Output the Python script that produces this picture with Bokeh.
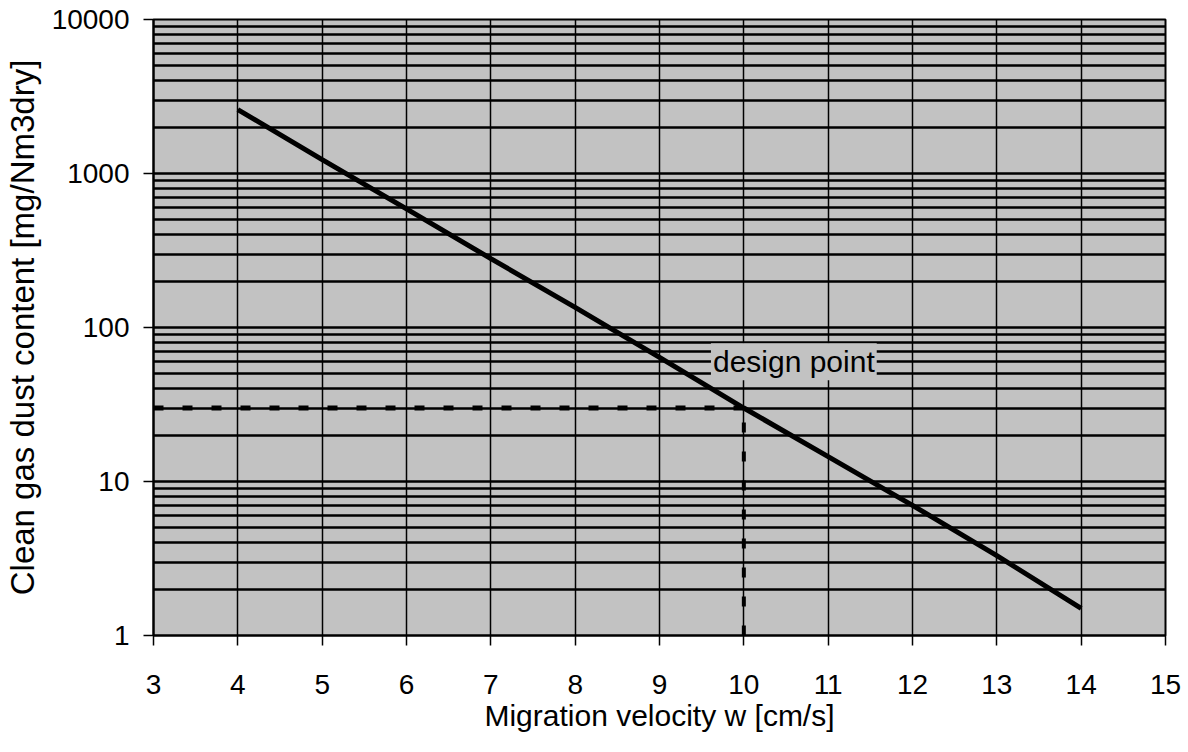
from bokeh.plotting import figure
from bokeh.models import FixedTicker, NumeralTickFormatter, Range1d
from bokeh.core.properties import value
from bokeh.embed import file_html
from bokeh.resources import INLINE

# data
velocity = [4, 5, 6, 7, 8, 9, 10, 11, 12, 13, 14]
dust = [2600, 1230, 590, 280, 135, 64, 30, 14.5, 7.0, 3.3, 1.5]
design_x = 10
design_y = 30
x_ticks = [3, 4, 5, 6, 7, 8, 9, 10, 11, 12, 13, 14, 15]
y_ticks = [1, 10, 100, 1000, 10000]
y_minor = [m * d for d in [1, 10, 100, 1000] for m in range(2, 10)]

X_MIN, X_MAX = 3, 15
Y_MIN, Y_MAX = 1, 10000

FONT = "Liberation Sans"
BG = "#c2c2c2"

p = figure(width=1188, height=752, y_axis_type="log",
           x_range=Range1d(X_MIN, X_MAX), y_range=Range1d(Y_MIN, Y_MAX),
           output_backend="svg", toolbar_location=None,
           min_border_left=152, min_border_right=23,
           min_border_top=19, min_border_bottom=117)

p.background_fill_color = BG
p.border_fill_color = "white"
p.outline_line_color = "black"
p.outline_line_width = 2

# axes
p.xaxis.ticker = FixedTicker(ticks=x_ticks)
p.yaxis.ticker = FixedTicker(ticks=y_ticks, minor_ticks=y_minor)
p.yaxis.formatter = NumeralTickFormatter(format="0")
for ax in (p.xaxis[0], p.yaxis[0]):
    ax.axis_line_color = "black"
    ax.axis_line_width = 2
    ax.major_tick_line_color = "black"
    ax.major_tick_line_width = 1.5
    ax.major_tick_in = 0
    ax.major_tick_out = 10
    ax.minor_tick_line_color = None
    ax.major_label_text_font = FONT
    ax.major_label_text_font_size = "28px"
    ax.major_label_text_color = "black"
    ax.axis_label_text_font = FONT
    ax.axis_label_text_font_style = "normal"
    ax.axis_label_text_color = "black"

p.xaxis.axis_label_text_font_size = "30px"
p.yaxis.axis_label_text_font_size = "33px"
p.xaxis.major_label_standoff = 29
p.xaxis.axis_label_standoff = 2
p.yaxis.major_label_standoff = 14
p.yaxis.axis_label_standoff = 8
p.xaxis.axis_label = "Migration velocity w [cm/s]"
p.yaxis.axis_label = "Clean gas dust content [mg/Nm3dry]"

# grid
p.xgrid.grid_line_color = "black"
p.xgrid.grid_line_width = 1.5
p.ygrid.grid_line_color = "black"
p.ygrid.grid_line_width = 2.5
p.ygrid.minor_grid_line_color = "black"
p.ygrid.minor_grid_line_width = 2.5

# reference dashed lines to the design point
p.line([X_MIN, design_x], [design_y, design_y], line_color="black",
       line_width=5, line_dash="10 19")
p.line([design_x, design_x], [Y_MIN, design_y], line_color="black",
       line_width=4, line_dash="10 19")

# main curve
p.line(velocity, dust, line_color="black", line_width=5)

# label (with a background box, hiding the grid behind it)
p.text(x=[design_x - 0.39], y=[design_y * 2.0], text=["design point"],
       text_font=value(FONT), text_font_size="30px", text_color="black",
       text_align="left", text_baseline="middle",
       background_fill_color=BG, padding=2)

open("out.html", "w").write(file_html(p, INLINE))
